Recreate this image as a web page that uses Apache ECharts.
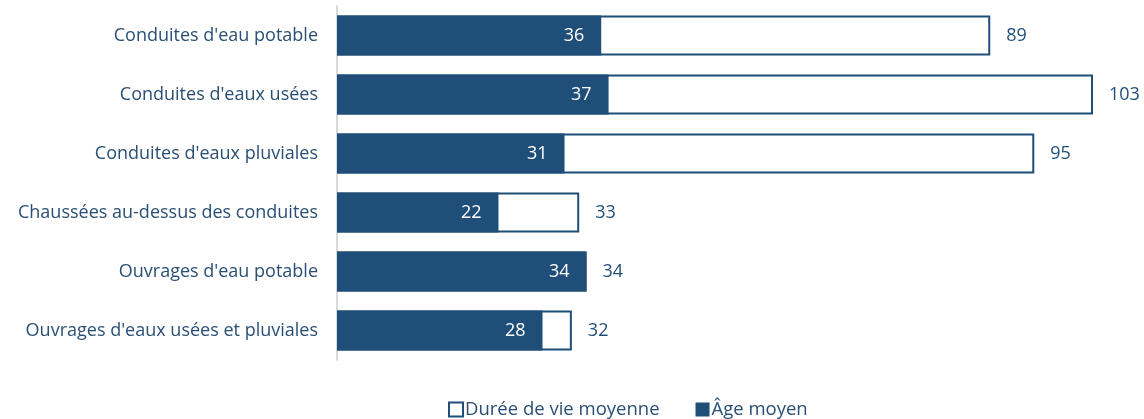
<!DOCTYPE html>
<html><head><meta charset="utf-8">
<script src="https://cdn.jsdelivr.net/npm/echarts@6/dist/echarts.min.js"></script>
<style>html,body{margin:0;padding:0;background:#fff}#c{width:1144px;height:419px}</style>
</head><body><div id="c"></div>
<script>
const categories = ["Conduites d'eau potable","Conduites d'eaux usées","Conduites d'eaux pluviales","Chaussées au-dessus des conduites","Ouvrages d'eau potable","Ouvrages d'eaux usées et pluviales"];
const dureeVie = [89,103,95,33,34,32];
const ageMoyen = [36,37,31,22,34,28];
const seriesNames = ["Durée de vie moyenne","Âge moyen"];
const dark = '#1f4e79';
const font = '"Open Sans", "Noto Sans", sans-serif';
const chart = echarts.init(document.getElementById('c'));
chart.setOption({
  animation:false,
  textStyle:{fontFamily:font},
  grid:{left:337,right:51,top:6,bottom:59,containLabel:false},
  xAxis:{type:'value',min:0,max:103,show:false},
  yAxis:{type:'category',data:categories,inverse:true,
    axisLine:{show:true,lineStyle:{color:'#d9d9d9',width:2}},
    axisTick:{show:false},
    axisLabel:{color:'#2a4f74',fontSize:18,margin:19,fontFamily:font}},
  legend:{bottom:-5,left:443,itemWidth:14,itemHeight:14,itemGap:36,icon:'rect',
    textStyle:{color:'#2a4f74',fontSize:18.5,fontFamily:font,padding:[0,0,0,-3]},
    data:seriesNames},
  series:[
    {name:seriesNames[0],type:'bar',data:dureeVie,barWidth:'68%',
      itemStyle:{color:'#ffffff',borderColor:dark,borderWidth:2},
      label:{show:true,position:'right',distance:16,color:dark,fontSize:18,fontFamily:font}},
    {name:seriesNames[1],type:'bar',data:ageMoyen,barWidth:'68%',barGap:'-100%',
      itemStyle:{color:dark},
      label:{show:true,position:'insideRight',distance:17,color:'#ffffff',fontSize:18,fontFamily:font}}
  ]
});
</script></body></html>
